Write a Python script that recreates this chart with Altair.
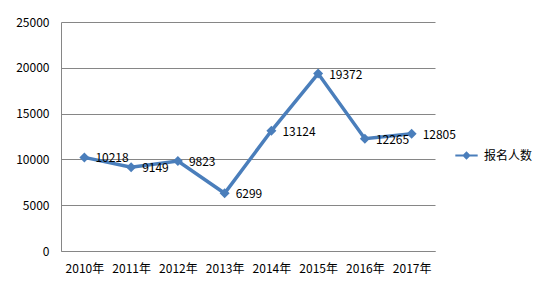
import altair as alt
import pandas as pd

years = ["2010年", "2011年", "2012年", "2013年", "2014年", "2015年", "2016年", "2017年"]
values = [10218, 9149, 9823, 6299, 13124, 19372, 12265, 12805]
series = "报名人数"

df = pd.DataFrame({"year": years, "value": values, "series": [series] * len(years)})

FONT = "Noto Sans CJK SC"
BLUE = "#4a7ebb"

x = alt.X("year:N", sort=years, title=None,
          scale=alt.Scale(type="point", padding=0.5),
          axis=alt.Axis(labelAngle=0, ticks=False, labelPadding=12, domainColor="#868686",
                        labelFont=FONT, labelFontSize=12, labelColor="#000000", grid=False))
y = alt.Y("value:Q", title=None,
          scale=alt.Scale(domain=[0, 25000], nice=False),
          axis=alt.Axis(values=[0, 5000, 10000, 15000, 20000, 25000], format="d", ticks=False, labelPadding=12,
                        domainColor="#868686", gridColor="#868686", gridOpacity=1,
                        labelFont=FONT, labelFontSize=12, labelColor="#000000"))

color = alt.Color("series:N", scale=alt.Scale(range=[BLUE]), title=None,
                  legend=alt.Legend(orient="none", legendX=394, legendY=122,
                                    symbolType="M-1,-0.09L1,-0.09L1,0.09L-1,0.09Z M0,-0.38L0.38,0L0,0.38L-0.38,0Z",
                                    symbolSize=500, symbolStrokeWidth=0, symbolFillColor=BLUE,
                                    labelFont=FONT, labelFontSize=12, labelColor="#000000",
                                    labelOffset=6))

base = alt.Chart(df).encode(x=x, y=y)
line = base.mark_line(strokeWidth=3.5).encode(color=color)
pts = base.mark_point(shape="diamond", filled=True, size=100, opacity=1).encode(
    color=alt.Color("series:N", scale=alt.Scale(range=[BLUE]), legend=None))
txt = base.mark_text(align="left", baseline="middle", dx=11, dy=1, font=FONT, fontSize=12,
                     color="#000000").encode(text="value:Q")

chart = alt.layer(line, pts, txt).properties(
    width=374, height=229,
    autosize=alt.AutoSizeParams(type="none"),
    padding={"left": 61, "top": 22, "right": 107, "bottom": 33},
    background="white",
).configure_view(stroke=None)

chart.save("out.html", embed_options={"renderer": "svg", "actions": False})
